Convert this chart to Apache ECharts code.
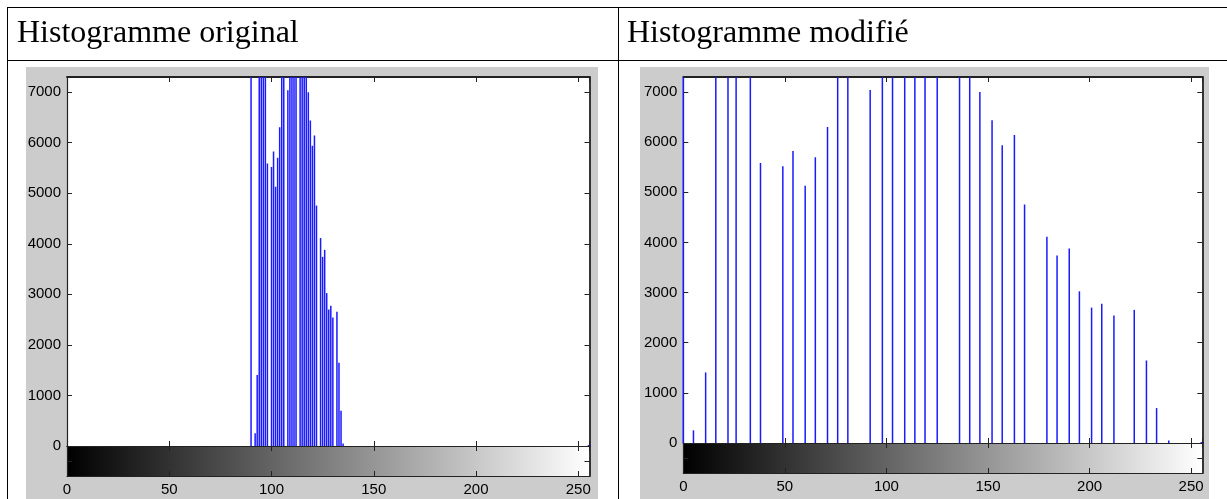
<!DOCTYPE html>
<html><head><meta charset="utf-8">
<style>html,body{margin:0;padding:0;background:#fff}#c{width:1227px;height:499px}</style>
<script src="https://cdn.jsdelivr.net/npm/echarts@6/dist/echarts.min.js"></script>
</head><body><div id="c"></div>
<script>
// Gray-level bins (0..255) of the original and of the equalized image
const binsOriginal = [90, 92, 93, 94, 95, 96, 97, 98, 100, 101, 102, 103, 104, 105, 106, 108,
  109, 110, 111, 112, 114, 115, 116, 117, 118, 119, 120, 121, 122, 124, 125, 126,
  127, 128, 129, 130, 132, 133, 134, 135, 255];
const binsModified = [0, 5, 11, 16, 22, 26, 33, 38, 49, 54, 60, 65, 71, 76, 81, 92,
  98, 103, 109, 114, 119, 125, 136, 141, 146, 152, 157, 163, 168, 179, 184, 190,
  195, 201, 206, 212, 222, 228, 233, 239, 255];
// Pixel counts per bin (same counts in both histograms; values above ~7300 are clipped, estimated)
const counts = [9800, 253, 1407, 8600, 10400, 12100, 9100, 5587, 5521, 5826, 5129, 5701, 6304, 8900, 11600, 7040,
  10800, 13300, 12700, 11900, 9700, 8400, 10200, 9300, 7000, 6437, 5940, 6145, 4757, 4114, 3742, 3881,
  3025, 2701, 2775, 2542, 2655, 1646, 697, 48, 20];
const xTickLabels = [0, 50, 100, 150, 200, 250];
const yTickLabels = [0, 1000, 2000, 3000, 4000, 5000, 6000, 7000];
const titles = ['Histogramme original', 'Histogramme modifié'];

const X_MAX = 255.5, Y_MAX = 7300;
const labelFont = {fontFamily: 'Liberation Sans', fontSize: 15, color: '#000000'};
const boxColor = '#222222';

const panels = [
  {main: {left: 67, top: 77, width: 522.5, height: 369}, bar: {left: 67, top: 446, width: 522.5, height: 30}, bins: binsOriginal},
  {main: {left: 683.3, top: 77, width: 519, height: 366}, bar: {left: 683.3, top: 443, width: 519, height: 30}, bins: binsModified}
];

const grid = [], xAxis = [], yAxis = [], series = [];
function xAx(gi, pos, showLabel, lw) {
  return {type: 'value', gridIndex: gi, position: pos, min: 0, max: X_MAX, interval: 50,
    axisLine: {show: true, onZero: false, lineStyle: {color: boxColor, width: lw}},
    axisTick: {show: true, inside: true, length: 5, lineStyle: {color: boxColor, width: 1}},
    axisLabel: {show: showLabel, margin: 6, showMaxLabel: false, ...labelFont,
      formatter: v => xTickLabels.includes(v) ? String(v) : ''},
    splitLine: {show: false}};
}
function yAx(gi, pos, max, interval, showLabel, lw) {
  return {type: 'value', gridIndex: gi, position: pos, min: 0, max: max, interval: interval,
    axisLine: {show: true, onZero: false, lineStyle: {color: boxColor, width: lw}},
    axisTick: {show: true, inside: true, length: 5, lineStyle: {color: boxColor, width: 1}},
    axisLabel: {show: showLabel, margin: 6, showMaxLabel: false, ...labelFont,
      formatter: v => yTickLabels.includes(v) ? String(v) : ''},
    splitLine: {show: false}};
}
panels.forEach((p, k) => {
  const gMain = grid.length;
  grid.push({...p.main, show: true, backgroundColor: '#ffffff', borderWidth: 0, containLabel: false});
  const gBar = grid.length;
  grid.push({...p.bar, show: true, borderWidth: 0, containLabel: false,
    backgroundColor: {type: 'linear', x: 0, y: 0, x2: 1, y2: 0,
      colorStops: [{offset: 0, color: '#000000'}, {offset: 1, color: '#ffffff'}]}});
  const xi = xAxis.length;
  xAxis.push(xAx(gMain, 'bottom', false, 1.2));
  xAxis.push(xAx(gMain, 'top', false, 1.8));
  xAxis.push(xAx(gBar, 'bottom', true, 1.2));
  xAxis.push(xAx(gBar, 'top', false, 1.2));
  const yi = yAxis.length;
  yAxis.push(yAx(gMain, 'left', Y_MAX, 1000, true, 1.2));
  yAxis.push(yAx(gMain, 'right', Y_MAX, 1000, false, 1.8));
  yAxis.push(yAx(gBar, 'left', 1, 0.5, false, 1.2));
  yAxis.push(yAx(gBar, 'right', 1, 0.5, false, 1.8));
  series.push({type: 'bar', xAxisIndex: xi, yAxisIndex: yi, barWidth: 1.5, clip: true,
    itemStyle: {color: '#1a1aff'}, silent: true,
    data: p.bins.map((b, i) => [b, counts[i]])});
});

const graphic = [
  {type: 'rect', z: -10, shape: {x: 26, y: 67, width: 572, height: 440}, style: {fill: '#cccccc'}},
  {type: 'rect', z: -10, shape: {x: 640, y: 67, width: 569, height: 440}, style: {fill: '#cccccc'}},
  {type: 'line', shape: {x1: 7, y1: 7.5, x2: 1227, y2: 7.5}, style: {stroke: '#000', lineWidth: 1}},
  {type: 'line', shape: {x1: 7, y1: 60.5, x2: 1227, y2: 60.5}, style: {stroke: '#000', lineWidth: 1}},
  {type: 'line', shape: {x1: 7.5, y1: 7, x2: 7.5, y2: 499}, style: {stroke: '#000', lineWidth: 1}},
  {type: 'line', shape: {x1: 618.5, y1: 7, x2: 618.5, y2: 499}, style: {stroke: '#000', lineWidth: 1}},
  {type: 'text', x: 17, y: 34, style: {text: titles[0], font: '32px "Liberation Serif"', fill: '#000', verticalAlign: 'middle'}},
  {type: 'text', x: 627, y: 34, style: {text: titles[1], font: '32px "Liberation Serif"', fill: '#000', verticalAlign: 'middle'}}
];

const chart = echarts.init(document.getElementById('c'), null, {renderer: 'canvas'});
chart.setOption({backgroundColor: '#ffffff', animation: false, grid, xAxis, yAxis, series, graphic});
</script></body></html>
